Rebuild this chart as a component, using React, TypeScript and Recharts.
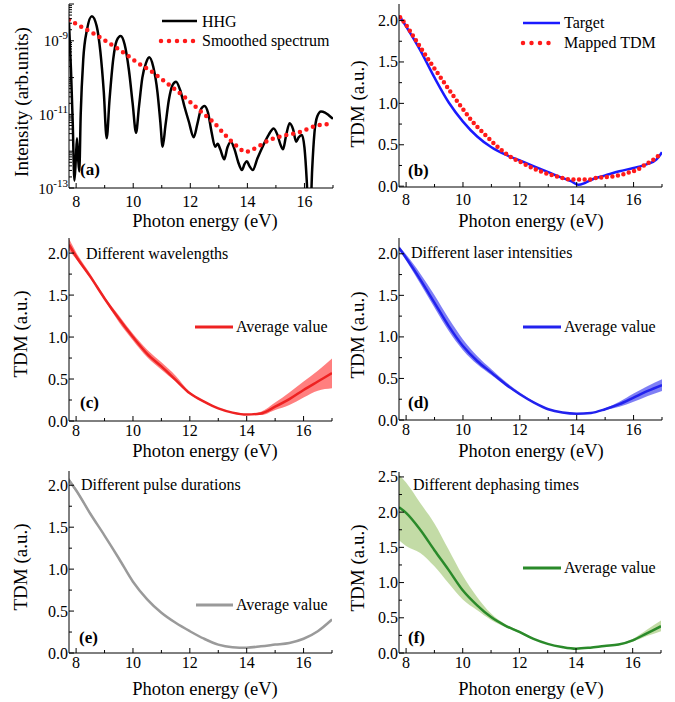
import React from "react";
import { ComposedChart, Line, Area, XAxis, YAxis } from "recharts";

const FONT = '"Liberation Serif", "Times New Roman", serif';

// shared photon energy axis
const energyDomain: [number, number] = [7.75, 17];
const energyTicks = [8, 9, 10, 11, 12, 13, 14, 15, 16, 17];

// (a) HHG spectrum, log10(intensity)
const hhgE = [7.75, 7.82, 7.88, 7.94, 7.99, 8.03, 8.07, 8.11, 8.16, 8.25, 8.38, 8.55, 8.72, 8.85, 8.97, 9.07, 9.17, 9.3, 9.42, 9.56, 9.7, 9.85, 9.98, 10.1, 10.2, 10.32, 10.45, 10.56, 10.7, 10.85, 10.95, 11.03, 11.13, 11.25, 11.38, 11.5, 11.65, 11.8, 11.95, 12.12, 12.25, 12.38, 12.5, 12.62, 12.75, 12.87, 12.96, 13.05, 13.19, 13.3, 13.42, 13.55, 13.68, 13.81, 13.9, 13.98, 14.07, 14.19, 14.35, 14.55, 14.75, 14.92, 15.05, 15.15, 15.25, 15.35, 15.48, 15.6, 15.71, 15.8, 15.91, 16.0, 16.08, 16.14, 16.2, 16.27, 16.35, 16.45, 16.58, 16.72, 16.85, 17.0];
const hhgLog = [-8.5, -9.8, -11.2, -12.8, -12.2, -11.65, -12.2, -12.55, -11.0, -9.5, -8.7, -8.33, -8.6, -9.3, -10.4, -11.65, -10.6, -9.5, -9.0, -8.87, -9.1, -9.8, -10.7, -11.5, -10.8, -10.0, -9.6, -9.45, -9.7, -10.4, -11.2, -11.88, -11.3, -10.6, -10.2, -10.11, -10.35, -10.8, -11.2, -11.62, -11.25, -10.85, -10.77, -10.95, -11.5, -11.88, -11.8, -11.95, -12.22, -11.9, -11.74, -11.95, -12.3, -12.51, -12.35, -12.27, -12.4, -12.51, -12.2, -11.85, -11.55, -11.38, -11.55, -11.8, -11.95, -11.6, -11.24, -11.4, -11.74, -11.62, -11.56, -11.9, -12.8, -13.8, -13.8, -12.5, -11.5, -11.05, -10.92, -10.95, -11.02, -11.12];
const smoothE = [7.75, 8.23, 8.7, 9.21, 9.66, 10.12, 10.62, 11.08, 11.53, 11.95, 12.38, 12.82, 13.22, 13.66, 13.95, 14.19, 14.43, 14.66, 14.92, 15.21, 15.5, 15.77, 16.03, 16.32, 16.58, 17.0];
const smoothLog = [-8.43, -8.64, -8.84, -9.09, -9.32, -9.58, -9.82, -10.09, -10.36, -10.63, -10.93, -11.22, -11.56, -11.88, -12.02, -11.95, -11.85, -11.74, -11.65, -11.59, -11.54, -11.5, -11.42, -11.33, -11.28, -11.26];
const logDecades = [-13, -12, -11, -10, -9, -8];

// (b) target vs mapped TDM
const targetE = [7.78, 8, 8.5, 9, 9.5, 10, 10.5, 11, 11.5, 12, 12.5, 13, 13.5, 13.8, 14.06, 14.3, 14.6, 15, 15.5, 16, 16.5, 16.8, 17];
const targetV = [2.05, 1.93, 1.64, 1.31, 1.01, 0.78, 0.6, 0.47, 0.38, 0.31, 0.24, 0.17, 0.1, 0.06, 0.016, 0.04, 0.09, 0.13, 0.18, 0.22, 0.27, 0.32, 0.41];
const mappedE = [7.79, 7.97, 8.29, 8.61, 8.94, 9.28, 9.62, 9.96, 10.31, 10.72, 11.14, 11.6, 12.09, 12.64, 13.27, 13.83, 14.12, 14.42, 14.71, 15.0, 15.3, 15.59, 15.88, 16.15, 16.41, 16.65, 16.85, 17.0];
const mappedV = [2.04, 1.96, 1.79, 1.62, 1.45, 1.28, 1.11, 0.95, 0.79, 0.64, 0.5, 0.37, 0.28, 0.19, 0.12, 0.08, 0.08, 0.08, 0.1, 0.11, 0.12, 0.14, 0.17, 0.2, 0.26, 0.31, 0.36, 0.4];

// (c)-(f) averaged TDM with spread
const bandE = [7.75, 8, 8.5, 9, 9.5, 10, 10.5, 11, 11.5, 12, 12.5, 13, 13.5, 14, 14.5, 15, 15.5, 16, 16.5, 17];
const cMean = [2.1, 1.96, 1.72, 1.46, 1.22, 1.0, 0.8, 0.65, 0.49, 0.33, 0.23, 0.15, 0.1, 0.076, 0.09, 0.17, 0.26, 0.37, 0.47, 0.57];
const cLow = [2.03, 1.93, 1.7, 1.44, 1.18, 0.96, 0.76, 0.61, 0.47, 0.32, 0.22, 0.145, 0.095, 0.07, 0.07, 0.13, 0.19, 0.28, 0.36, 0.39];
const cHigh = [2.17, 2.01, 1.75, 1.48, 1.26, 1.04, 0.85, 0.7, 0.54, 0.345, 0.24, 0.155, 0.105, 0.08, 0.11, 0.22, 0.34, 0.47, 0.6, 0.745];
const dMean = [2.07, 1.95, 1.69, 1.41, 1.13, 0.89, 0.71, 0.57, 0.43, 0.31, 0.21, 0.13, 0.09, 0.076, 0.085, 0.13, 0.19, 0.27, 0.35, 0.42];
const dLow = [2.05, 1.92, 1.64, 1.35, 1.07, 0.84, 0.67, 0.54, 0.41, 0.3, 0.205, 0.125, 0.085, 0.07, 0.08, 0.12, 0.16, 0.22, 0.29, 0.35];
const dHigh = [2.09, 1.99, 1.76, 1.5, 1.22, 0.97, 0.77, 0.61, 0.46, 0.33, 0.22, 0.135, 0.095, 0.082, 0.09, 0.14, 0.22, 0.32, 0.41, 0.49];
const eMean = [2.06, 1.94, 1.66, 1.4, 1.13, 0.85, 0.64, 0.48, 0.36, 0.26, 0.17, 0.1, 0.07, 0.064, 0.08, 0.1, 0.12, 0.17, 0.26, 0.4];
const eLow = [2.03, 1.92, 1.645, 1.39, 1.12, 0.843, 0.635, 0.476, 0.357, 0.257, 0.167, 0.097, 0.067, 0.061, 0.077, 0.097, 0.117, 0.166, 0.255, 0.393];
const eHigh = [2.09, 1.96, 1.675, 1.41, 1.14, 0.857, 0.645, 0.484, 0.363, 0.263, 0.173, 0.103, 0.073, 0.067, 0.083, 0.103, 0.123, 0.174, 0.265, 0.407];
const fMean = [2.07, 1.99, 1.75, 1.46, 1.18, 0.89, 0.68, 0.51, 0.39, 0.3, 0.2, 0.13, 0.086, 0.062, 0.076, 0.1, 0.12, 0.18, 0.28, 0.38];
const fLow = [1.6, 1.52, 1.42, 1.23, 0.99, 0.76, 0.61, 0.47, 0.37, 0.285, 0.19, 0.125, 0.08, 0.058, 0.072, 0.095, 0.11, 0.16, 0.24, 0.31];
const fHigh = [2.53, 2.42, 2.13, 1.84, 1.47, 1.1, 0.8, 0.56, 0.41, 0.315, 0.21, 0.135, 0.09, 0.066, 0.08, 0.105, 0.13, 0.2, 0.33, 0.46];

const tdmTicks = [0, 0.25, 0.5, 0.75, 1, 1.25, 1.5, 1.75, 2];
const tdmTicksF = [0, 0.25, 0.5, 0.75, 1, 1.25, 1.5, 1.75, 2, 2.25, 2.5];

const logTicks = logDecades.flatMap((d) =>
  [1, 2, 3, 4, 5, 6, 7, 8, 9].map((m) => m * Math.pow(10, d))
).filter((v) => v <= 1.0001e-8);

const hhgRows = hhgE.map((e, i) => ({ e, v: Math.pow(10, hhgLog[i]) }));
const smoothRows = smoothE.map((e, i) => ({ e, v: Math.pow(10, smoothLog[i]) }));
const targetRows = targetE.map((e, i) => ({ e, v: targetV[i] }));
const mappedRows = mappedE.map((e, i) => ({ e, v: mappedV[i] }));
const band = (mean: number[], lo: number[], hi: number[]) =>
  bandE.map((e, i) => ({ e, v: mean[i], band: [lo[i], hi[i]] }));
const cRows = band(cMean, cLow, cHigh);
const dRows = band(dMean, dLow, dHigh);
const eRows = band(eMean, eLow, eHigh);
const fRows = band(fMean, fLow, fHigh);

type Rect = { x: number; y: number; w: number; h: number };
type Plot = { l: number; t: number; r: number; b: number };

const MAJOR = 5;
const MINOR = 3;
const serif = { fontFamily: FONT };

function bottomTick(box: Plot, dy: number) {
  return (p: any) => {
    const v = p.payload.value;
    const x = p.x;
    const major = Math.round(v) % 2 === 0;
    return (
      <g>
        <line x1={x} x2={x} y1={box.b} y2={box.b - (major ? MAJOR : MINOR)} stroke="#000" />
        {major && (
          <text x={x} y={box.b + dy} textAnchor="middle" style={serif} fontSize={16} fill="#000">
            {v}
          </text>
        )}
      </g>
    );
  };
}

function topTick(box: Plot) {
  return (p: any) => {
    const v = p.payload.value;
    const major = Math.round(v) % 2 === 0;
    return <line x1={p.x} x2={p.x} y1={box.t} y2={box.t + (major ? MAJOR : MINOR)} stroke="#000" />;
  };
}

function sideTick(box: Plot, side: "left" | "right", log: boolean) {
  return (p: any) => {
    const v = p.payload.value;
    const y = p.y;
    let major: boolean;
    let label: React.ReactNode = null;
    if (log) {
      const ex = Math.log10(v);
      major = Math.abs(ex - Math.round(ex)) < 1e-6;
      if (major && Math.abs(Math.round(ex)) % 2 === 1 && side === "left") {
        label = (
          <text x={box.l - 1} y={y + 5.5} textAnchor="end" style={serif} fontSize={15} fill="#000">
            10
            <tspan fontSize={11} dy={-7}>
              {Math.round(ex)}
            </tspan>
          </text>
        );
      }
    } else {
      major = Math.abs(v * 2 - Math.round(v * 2)) < 1e-6;
      if (major && side === "left") {
        label = (
          <text x={box.l - 1} y={y + 5.5} textAnchor="end" style={serif} fontSize={16} fill="#000">
            {v.toFixed(1)}
          </text>
        );
      }
    }
    const len = major ? MAJOR : MINOR;
    const x0 = side === "left" ? box.l : box.r;
    const x1 = side === "left" ? x0 + len : x0 - len;
    return (
      <g>
        <line x1={x0} x2={x1} y1={y} y2={y} stroke="#000" />
        {label}
      </g>
    );
  };
}

const axisStyle = { stroke: "#000", strokeWidth: 1 };

function Panel(props: {
  cell: Rect;
  plot: Plot; // page coordinates of plot frame
  yDomain: [number, number];
  yTicks: number[];
  log?: boolean;
  xLabelDy: number;
  children: React.ReactNode;
}) {
  const { cell, plot, yDomain, yTicks, log = false, xLabelDy, children } = props;
  const box: Plot = {
    l: plot.l - cell.x,
    t: plot.t - cell.y,
    r: plot.r - cell.x,
    b: plot.b - cell.y,
  };
  const margin = { top: box.t, right: cell.w - box.r, bottom: 0, left: 0 };
  return (
    <div style={{ position: "absolute", left: cell.x, top: cell.y, width: cell.w, height: cell.h }}>
      <ComposedChart width={cell.w} height={cell.h} margin={margin}>
        <XAxis
          xAxisId="b"
          type="number"
          dataKey="e"
          domain={energyDomain}
          allowDataOverflow
          ticks={energyTicks}
          interval={0}
          tickSize={0}
          tickLine={false}
          axisLine={axisStyle}
          height={cell.h - box.b}
          tick={bottomTick(box, xLabelDy)}
        />
        <XAxis
          xAxisId="t"
          orientation="top"
          type="number"
          dataKey="e"
          domain={energyDomain}
          allowDataOverflow
          ticks={energyTicks}
          interval={0}
          tickSize={0}
          tickLine={false}
          axisLine={axisStyle}
          height={0}
          tick={topTick(box)}
        />
        <YAxis
          yAxisId="l"
          type="number"
          domain={yDomain}
          scale={log ? "log" : "linear"}
          allowDataOverflow
          ticks={yTicks}
          interval={0}
          tickSize={0}
          tickLine={false}
          axisLine={axisStyle}
          width={box.l}
          tick={sideTick(box, "left", log)}
        />
        <YAxis
          yAxisId="r"
          orientation="right"
          type="number"
          domain={yDomain}
          scale={log ? "log" : "linear"}
          allowDataOverflow
          ticks={yTicks}
          interval={0}
          tickSize={0}
          tickLine={false}
          axisLine={axisStyle}
          width={0}
          tick={sideTick(box, "right", log)}
        />
        {children}
      </ComposedChart>
    </div>
  );
}

function meanLine(rows: any[], color: string) {
  return (
    <Line
      key="mean"
      xAxisId="b"
      yAxisId="l"
      data={rows}
      dataKey="v"
      type="monotone"
      stroke={color}
      strokeWidth={2.5}
      dot={false}
      activeDot={false}
      isAnimationActive={false}
    />
  );
}

function spread(rows: any[], color: string, opacity: number) {
  return (
    <Area
      key="band"
      xAxisId="b"
      yAxisId="l"
      data={rows}
      dataKey="band"
      type="monotone"
      stroke="none"
      fill={color}
      fillOpacity={opacity}
      dot={false}
      activeDot={false}
      isAnimationActive={false}
    />
  );
}

function Overlay() {
  const yTitle = (x: number, y: number, s: string) => (
    <text x={x} y={y} dy="0.35em" transform={`rotate(-90 ${x} ${y})`} textAnchor="middle" fontSize={19} style={serif} fill="#000">
      {s}
    </text>
  );
  const xTitle = (x: number, y: number) => (
    <text x={x} y={y} textAnchor="middle" fontSize={18.5} style={serif} fill="#000">
      Photon energy (eV)
    </text>
  );
  const tag = (x: number, y: number, s: string) => (
    <text x={x} y={y} fontSize={17} fontWeight="bold" style={serif} fill="#000">
      {s}
    </text>
  );
  const note = (x: number, y: number, s: string) => (
    <text x={x} y={y} fontSize={16} style={serif} fill="#000">
      {s}
    </text>
  );
  const avg = (x1: number, x2: number, y: number, color: string) => (
    <g>
      <line x1={x1} x2={x2} y1={y} y2={y} stroke={color} strokeWidth={3} />
      {note(x2 + 3, y + 5, "Average value")}
    </g>
  );
  return (
    <svg width={675} height={702} style={{ position: "absolute", left: 0, top: 0, pointerEvents: "none" }}>
      {yTitle(21, 102, "Intensity (arb.units)")}
      {yTitle(357, 104, "TDM (a.u.)")}
      {yTitle(20, 334, "TDM (a.u.)")}
      {yTitle(357, 335, "TDM (a.u.)")}
      {yTitle(20, 567, "TDM (a.u.)")}
      {yTitle(357, 568, "TDM (a.u.)")}
      {xTitle(205, 227)}
      {xTitle(531, 227)}
      {xTitle(205, 457)}
      {xTitle(531, 457)}
      {xTitle(205, 695)}
      {xTitle(531, 695)}
      {tag(80, 175, "(a)")}
      {tag(408, 176, "(b)")}
      {tag(80, 408, "(c)")}
      {tag(408, 408, "(d)")}
      {tag(79, 643, "(e)")}
      {tag(408, 643, "(f)")}

      <line x1={162} x2={197} y1={21} y2={21} stroke="#000" strokeWidth={2.5} />
      {note(202, 27, "HHG")}
      <line x1={161} x2={195} y1={41} y2={41} stroke="#ff1a1a" strokeWidth={4.5} strokeDasharray="0 8" strokeLinecap="round" />
      {note(202, 46, "Smoothed spectrum")}

      <line x1={523} x2={560} y1={23} y2={23} stroke="#1a1aff" strokeWidth={2.5} />
      {note(564, 28, "Target")}
      <line x1={523} x2={557} y1={43} y2={43} stroke="#ff1a1a" strokeWidth={4.5} strokeDasharray="0 8.5" strokeLinecap="round" />
      {note(564, 48, "Mapped TDM")}

      {note(86, 259, "Different wavelengths")}
      {note(411, 258, "Different laser intensities")}
      {note(81, 490, "Different pulse durations")}
      {note(413, 490, "Different dephasing times")}
      {avg(195, 233, 327, "#ee2222")}
      {avg(523, 561, 327, "#2222ee")}
      {avg(196, 233, 605, "#9a9a9a")}
      {avg(523, 561, 568, "#2a8a2a")}
    </svg>
  );
}

export default function App() {
  return (
    <div style={{ position: "absolute", left: 0, top: 0, width: 675, height: 702, background: "#fff" }}>
      <Panel
        cell={{ x: 0, y: 0, w: 337, h: 230 }}
        plot={{ l: 69, t: 4, r: 333, b: 188 }}
        yDomain={[1e-13, 1e-8]}
        yTicks={logTicks}
        log
        xLabelDy={19}
      >
        <Line
          xAxisId="b"
          yAxisId="l"
          data={hhgRows}
          dataKey="v"
          type="monotone"
          stroke="#000"
          strokeWidth={2.5}
          dot={false}
          activeDot={false}
          isAnimationActive={false}
        />
        <Line
          xAxisId="b"
          yAxisId="l"
          data={smoothRows}
          dataKey="v"
          type="monotone"
          stroke="#ff1a1a"
          strokeWidth={4.5}
          strokeDasharray="0 7"
          strokeLinecap="round"
          dot={false}
          activeDot={false}
          isAnimationActive={false}
        />
      </Panel>
      <Panel
        cell={{ x: 337, y: 0, w: 338, h: 230 }}
        plot={{ l: 399, t: 4, r: 662, b: 187 }}
        yDomain={[-0.01, 2.2]}
        yTicks={tdmTicks}
        xLabelDy={18}
      >
        <Line
          xAxisId="b"
          yAxisId="l"
          data={targetRows}
          dataKey="v"
          type="monotone"
          stroke="#1a1aff"
          strokeWidth={2.5}
          dot={false}
          activeDot={false}
          isAnimationActive={false}
        />
        <Line
          xAxisId="b"
          yAxisId="l"
          data={mappedRows}
          dataKey="v"
          type="monotone"
          stroke="#ff1a1a"
          strokeWidth={4.5}
          strokeDasharray="0 5.6"
          strokeLinecap="round"
          dot={false}
          activeDot={false}
          isAnimationActive={false}
        />
      </Panel>
      <Panel
        cell={{ x: 0, y: 230, w: 337, h: 230 }}
        plot={{ l: 69, t: 238, r: 332, b: 421 }}
        yDomain={[0, 2.18]}
        yTicks={tdmTicks}
        xLabelDy={15}
      >
        {spread(cRows, "#ff0000", 0.5)}
        {meanLine(cRows, "#ee2222")}
      </Panel>
      <Panel
        cell={{ x: 337, y: 230, w: 338, h: 230 }}
        plot={{ l: 399, t: 238, r: 662, b: 420 }}
        yDomain={[0, 2.19]}
        yTicks={tdmTicks}
        xLabelDy={15}
      >
        {spread(dRows, "#2a2aee", 0.6)}
        {meanLine(dRows, "#2222ee")}
      </Panel>
      <Panel
        cell={{ x: 0, y: 460, w: 337, h: 242 }}
        plot={{ l: 69, t: 471, r: 332, b: 653 }}
        yDomain={[0, 2.17]}
        yTicks={tdmTicks}
        xLabelDy={15}
      >
        {spread(eRows, "#777777", 0.6)}
        {meanLine(eRows, "#9a9a9a")}
      </Panel>
      <Panel
        cell={{ x: 337, y: 460, w: 338, h: 242 }}
        plot={{ l: 399, t: 472, r: 661, b: 653 }}
        yDomain={[0, 2.57]}
        yTicks={tdmTicksF}
        xLabelDy={15}
      >
        {spread(fRows, "#b9d596", 0.85)}
        {meanLine(fRows, "#2a8a2a")}
      </Panel>
      <Overlay />
    </div>
  );
}
